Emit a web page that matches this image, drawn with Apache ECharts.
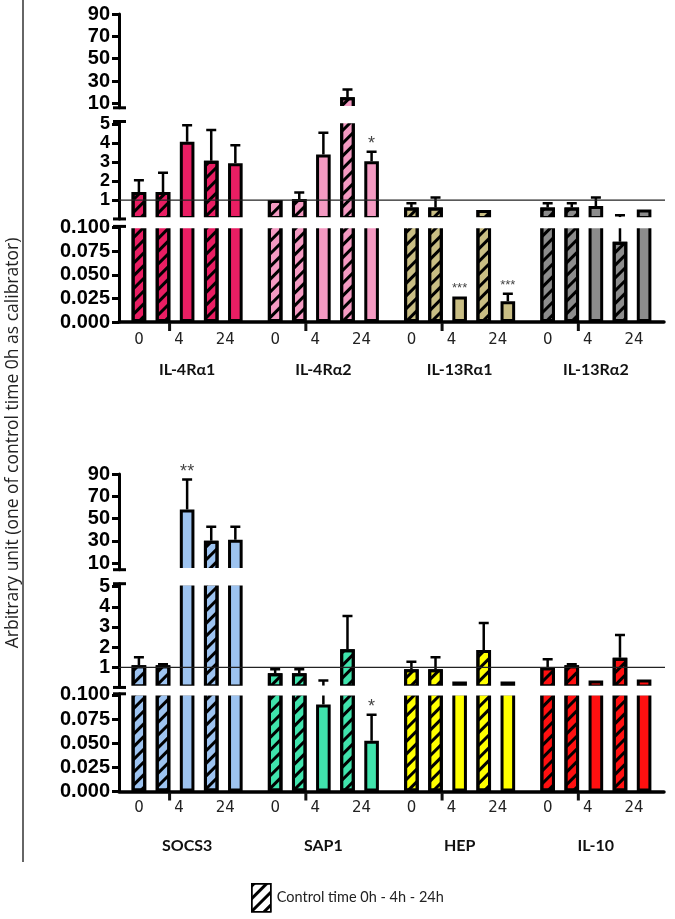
<!DOCTYPE html>
<html><head><meta charset="utf-8">
<script src="https://cdn.jsdelivr.net/npm/echarts@6/dist/echarts.min.js"></script>
<style>html,body{margin:0;padding:0;background:#fff}#c{width:675px;height:919px}</style>
</head><body><div id="c"></div>
<script>
// ---------------- data ----------------
const timeTicks = ['0', '4', '24'];
const legendLabel = 'Control time 0h - 4h - 24h';
const yTitle = 'Arbitrary unit (one of control time 0h as calibrator)';
const topTicks = [10, 30, 50, 70, 90];
const midTicks = [1, 2, 3, 4, 5];
const lowTicks = [0, 0.025, 0.05, 0.075, 0.1];
const refLevel = 1;

const p1Genes = ['IL-4Rα1', 'IL-4Rα2', 'IL-13Rα1', 'IL-13Rα2'];
const p1Colors = ['#E91E63', '#F49AC2', '#C9BE84', '#8C8C8C'];
const p1Ctrl0 = [1.43, 1.0, 0.6, 0.6];
const p1Ctrl4 = [1.43, 1.05, 0.6, 0.6];
const p1Trt4 = [4.08, 3.4, 0.027, 0.68];
const p1Ctrl24 = [3.08, 15.5, 0.47, 0.085];
const p1Trt24 = [2.94, 3.05, 0.022, 0.5];
const p1Ctrl0Err = [2.04, null, 0.83, 0.83];
const p1Ctrl4Err = [2.44, 1.4, 1.13, 0.83];
const p1Trt4Err = [4.95, 4.55, null, 1.13];
const p1Ctrl24Err = [4.7, 22.5, null, 0.19];
const p1Trt24Err = [3.9, 3.55, 0.030, null];
const p1Trt4Sig = ['', '', '***', ''];
const p1Trt24Sig = ['', '*', '***', ''];

const p2Genes = ['SOCS3', 'SAP1', 'HEP', 'IL-10'];
const p2Colors = ['#9DC3F0', '#40E3AC', '#FFFF00', '#FF1010'];
const p2Ctrl0 = [1.1, 0.7, 0.9, 1.0];
const p2Ctrl4 = [1.1, 0.7, 0.9, 1.1];
const p2Trt4 = [58, 0.09, 0.3, 0.35];
const p2Ctrl24 = [30, 1.9, 1.86, 1.47];
const p2Trt24 = [31, 0.0525, 0.3, 0.4];
const p2Ctrl0Err = [1.5, 0.9, 1.27, 1.4];
const p2Ctrl4Err = [1.15, 0.9, 1.5, 1.15];
const p2Trt4Err = [85, 0.35, null, null];
const p2Ctrl24Err = [42.6, 3.55, 3.2, 2.6];
const p2Trt24Err = [42.6, 0.0795, null, null];
const p2Trt4Sig = ['**', '', '', ''];
const p2Trt24Sig = ['', '*', '', ''];

// ---------------- layout / style ----------------
const LEFT = 119, WIDTH = 545;
const BAR_GAP = 0.65, CAT_GAP = 0.185;
const hatched = [true, true, false, true, false];
const timeLabelOf = [timeTicks[0], null, timeTicks[1], null, timeTicks[2]];
const timeLabelShift = [0, 0, -8, 0, -10];
const hatchDecal = {symbol: 'rect', symbolSize: 1, color: '#000', dashArrayX: [1, 0], dashArrayY: [3, 6], rotation: -Math.PI / 4};

const panels = [
  { genes: p1Genes, colors: p1Colors,
    vals: [p1Ctrl0, p1Ctrl4, p1Trt4, p1Ctrl24, p1Trt24],
    errs: [p1Ctrl0Err, p1Ctrl4Err, p1Trt4Err, p1Ctrl24Err, p1Trt24Err],
    sigs: [null, null, p1Trt4Sig, null, p1Trt24Sig],
    segs: [ {min: 6, max: 90, top: 14, bottom: 107.8, font: 20},
            {min: 0, max: 5.15, top: 121.5, bottom: 218.95, font: 18},
            {min: 0, max: 0.1012, top: 226.4, bottom: 322, font: 20} ],
    nameMargin: 40, tickDist: 11 },
  { genes: p2Genes, colors: p2Colors,
    vals: [p2Ctrl0, p2Ctrl4, p2Trt4, p2Ctrl24, p2Trt24],
    errs: [p2Ctrl0Err, p2Ctrl4Err, p2Trt4Err, p2Ctrl24Err, p2Trt24Err],
    sigs: [null, null, p2Trt4Sig, null, p2Trt24Sig],
    segs: [ {min: 4, max: 90, top: 474, bottom: 569.7, font: 20},
            {min: 0, max: 5.15, top: 583.7, bottom: 687.45, font: 19.5},
            {min: 0, max: 0.1012, top: 693.8, bottom: 791.5, font: 20} ],
    nameMargin: 46, tickDist: 9 }
];
const segTicks = [topTicks, midTicks, lowTicks];

function slotX(api, i, k) {
  const c = api.coord([i, 0])[0];
  const band = api.size([1, 0])[0];
  const usable = band * (1 - CAT_GAP);
  const bw = usable / (5 + 4 * BAR_GAP);
  return {x: c - usable / 2 + bw / 2 + k * bw * (1 + BAR_GAP), bw: bw};
}
function segOf(P, v) {
  if (v <= P.segs[2].max) return 2;
  if (v <= P.segs[1].max) return 1;
  return 0;
}

const grids = [], xAxes = [], yAxes = [], series = [], graphics = [];

panels.forEach((P, pi) => {
  P.segs.forEach((S, si) => {
    const g = grids.length;
    const isLow = si === 2;
    const lowerMax = si < 2 ? P.segs[si + 1].max : -Infinity;
    grids.push({left: LEFT, width: WIDTH, top: S.top, height: S.bottom - S.top, containLabel: false, outerBoundsMode: 'none'});
    xAxes.push({type: 'category', gridIndex: g, data: P.genes, show: isLow,
      axisLine: {show: isLow, onZero: false, lineStyle: {color: '#000', width: 3.5}},
      axisTick: {show: false},
      axisLabel: {show: isLow, interval: 0, margin: P.nameMargin, fontFamily: 'Lato', fontWeight: 'bold', fontSize: 16, color: '#111'},
      splitLine: {show: false}});
    yAxes.push({type: 'value', gridIndex: g, min: S.min, max: S.max,
      axisLine: {show: true, onZero: false, lineStyle: {color: '#000', width: 3}},
      axisTick: {show: true, length: 7, lineStyle: {color: '#000', width: 3}, customValues: segTicks[si]},
      axisLabel: {customValues: segTicks[si], formatter: v => si === 2 ? Number(v).toFixed(3) : String(v),
        fontFamily: 'Liberation Sans', fontWeight: 'bold', fontSize: S.font, color: '#000', margin: 9,
        hideOverlap: false, showMinLabel: true, showMaxLabel: true},
      splitLine: {show: false}});
    for (let k = 0; k < 5; k++) {
      const s = {type: 'bar', name: hatched[k] ? legendLabel : 'Treated', xAxisIndex: g, yAxisIndex: g,
        barGap: (BAR_GAP * 100) + '%', barCategoryGap: (CAT_GAP * 100) + '%', clip: true, z: 2,
        data: P.vals[k].map((v, i) => ({value: v > lowerMax ? v : '-', itemStyle: {color: P.colors[i]}})),
        itemStyle: {borderColor: '#000', borderWidth: 3}};
      if (hatched[k]) s.itemStyle.decal = hatchDecal;
      if (isLow && timeLabelOf[k]) {
        s.label = {show: true, position: 'bottom', distance: P.tickDist, offset: [timeLabelShift[k], 0],
          formatter: timeLabelOf[k], fontFamily: 'DejaVu Sans', fontSize: 15, color: '#222'};
      }
      series.push(s);
    }
    // error bars (only where the whisker reaches this segment)
    const errData = [];
    for (let k = 0; k < 5; k++) P.errs[k].forEach((e, i) => {
      if (e != null && e > lowerMax) errData.push([i, k, P.vals[k][i], e]);
    });
    series.push({type: 'custom', xAxisIndex: g, yAxisIndex: g, clip: true, z: 4, data: errData,
      encode: {x: 0, y: [2, 3]},
      renderItem: (params, api) => {
        const i = api.value(0), k = api.value(1);
        const sx = slotX(api, i, k);
        const y1 = api.coord([i, api.value(2)])[1];
        const y2 = api.coord([i, api.value(3)])[1];
        return {type: 'group', children: [
          {type: 'line', shape: {x1: sx.x, y1: y1, x2: sx.x, y2: y2}, style: {stroke: '#000', lineWidth: 2.5}},
          {type: 'line', shape: {x1: sx.x - 5, y1: y2, x2: sx.x + 5, y2: y2}, style: {stroke: '#000', lineWidth: 2.5}}
        ]};
      }});
    // significance stars (drawn in the segment that holds their anchor value)
    const sigData = [], sigText = [];
    for (let k = 0; k < 5; k++) {
      if (!P.sigs[k]) continue;
      P.sigs[k].forEach((t, i) => {
        if (!t) return;
        const anchor = P.errs[k][i] != null ? P.errs[k][i] : P.vals[k][i];
        if (segOf(P, anchor) === si) { sigData.push([i, k, anchor]); sigText.push(t); }
      });
    }
    if (sigData.length) {
      series.push({type: 'custom', xAxisIndex: g, yAxisIndex: g, clip: false, z: 5, data: sigData,
        encode: {x: 0, y: 2},
        renderItem: (params, api) => {
          const i = api.value(0), k = api.value(1);
          const sx = slotX(api, i, k);
          const y = api.coord([i, api.value(2)])[1];
          const t = sigText[params.dataIndex];
          const small = t.length >= 3;
          return {type: 'text', x: sx.x, y: y - 8,
            style: {text: t, fill: '#444', font: (small ? '13px' : '18px') + ' "Liberation Sans"',
              align: 'center', verticalAlign: 'middle'}};
        }});
    }
    if (si === 1) {
      series.push({type: 'custom', xAxisIndex: g, yAxisIndex: g, clip: false, z: 6, data: [[0, refLevel]],
        encode: {x: 0, y: 1},
        renderItem: (params, api) => {
          const y = api.coord([0, api.value(1)])[1];
          const cs = params.coordSys;
          return {type: 'line', shape: {x1: cs.x, y1: y, x2: cs.x + cs.width + 1, y2: y}, style: {stroke: '#222', lineWidth: 1.2}};
        }});
    }
    if (isLow) {
      series.push({type: 'custom', xAxisIndex: g, yAxisIndex: g, clip: false, z: 6,
        data: P.genes.map((_, i) => [i, 0]), encode: {x: 0, y: 1},
        renderItem: (params, api) => {
          const i = api.value(0);
          const sx = slotX(api, i, 1);
          const y = api.coord([i, 0])[1];
          const x = sx.x + sx.bw * 0.45;
          return {type: 'line', shape: {x1: x, y1: y + 1, x2: x, y2: y + 9}, style: {stroke: '#111', lineWidth: 3}};
        }});
    }
  });
  // white break stripes + axis break caps
  const s0 = P.segs[0], s1 = P.segs[1], s2 = P.segs[2];
  [[s0.bottom, s1.top], [s1.bottom, s2.top]].forEach(([a, b]) => {
    graphics.push({type: 'rect', z: 100, shape: {x: LEFT + 2, y: a - 1.8, width: WIDTH + 6, height: (b - a) + 3.6}, style: {fill: '#fff'}});
  });
  [s0.bottom, s1.top, s1.bottom, s2.top].forEach(y => {
    graphics.push({type: 'line', z: 101, shape: {x1: LEFT - 6, y1: y, x2: LEFT + 7, y2: y}, style: {stroke: '#000', lineWidth: 3}});
  });
});

graphics.push({type: 'line', z: 101, shape: {x1: 23, y1: 0, x2: 23, y2: 862}, style: {stroke: '#333', lineWidth: 1.5}});
graphics.push({type: 'text', z: 101, x: 13, y: 443, rotation: Math.PI / 2,
  style: {text: yTitle, font: '17.5px "Open Sans"', fill: '#222', align: 'center', verticalAlign: 'middle'}});

const chart = echarts.init(document.getElementById('c'));
chart.setOption({
  animation: false,
  backgroundColor: '#fff',
  grid: grids, xAxis: xAxes, yAxis: yAxes, series: series,
  legend: {data: [{name: legendLabel, icon: 'rect',
      itemStyle: {color: '#fff', borderColor: '#000', borderWidth: 1.5, decal: hatchDecal}}],
    left: 251, top: 883, padding: 0, itemWidth: 19, itemHeight: 28, selectedMode: false,
    textStyle: {fontFamily: 'Lato', fontSize: 14.5, color: '#222', padding: [0, 0, 0, 1]}},
  graphic: graphics
});
</script></body></html>
